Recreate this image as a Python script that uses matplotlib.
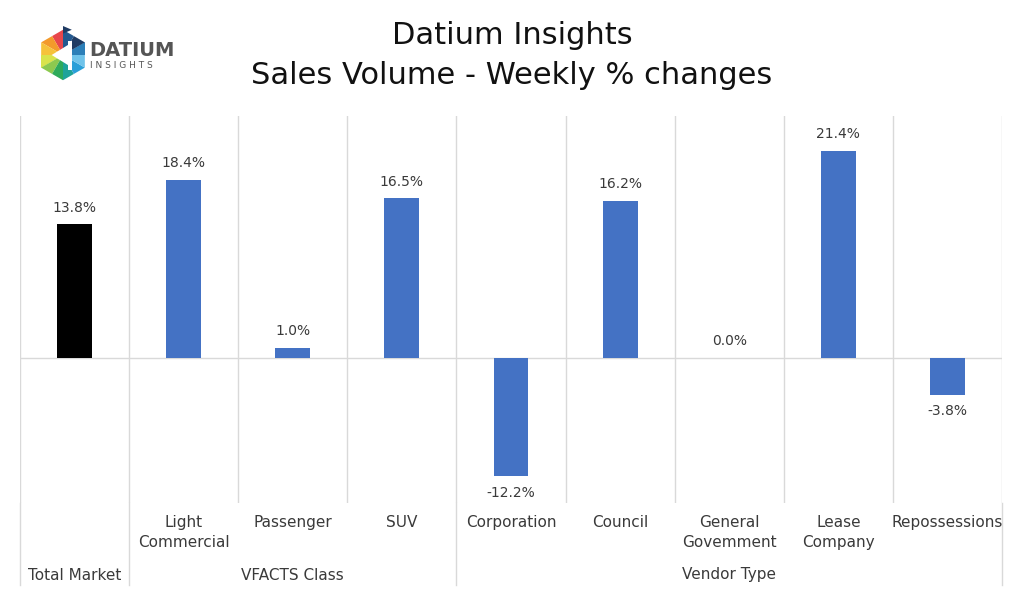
import matplotlib
matplotlib.use("Agg")
import matplotlib.pyplot as plt
from matplotlib.patches import Polygon
import numpy as np

# datos del grafico
categorias = ["", "Light\nCommercial", "Passenger", "SUV", "Corporation", "Council",
              "General\nGovemment", "Lease\nCompany", "Repossessions"]
valores = [13.8, 18.4, 1.0, 16.5, -12.2, 16.2, 0.0, 21.4, -3.8]
colores = ["#000000"] + ["#4472C4"] * 8
grupos = ["Total Market", "VFACTS Class", "Vendor Type"]
limites_grupos = [0, 1, 4, 9]

plt.rcParams['font.family'] = ['DejaVu Sans']
gris = "#d9d9d9"
texto = "#3a3a3a"

fig = plt.figure(figsize=(10.24, 5.94), dpi=100)
W, H = 1024, 594
ax = fig.add_axes([20 / W, 1 - 503 / H, 982 / W, 387 / H])

x = np.arange(len(valores)) + 0.5
barras = ax.bar(x, valores, width=0.32, color=colores, zorder=3)
ax.set_xlim(0, len(valores))
ax.set_ylim(-15, 25)

# lineas verticales y linea de cero
for i in range(len(valores) + 1):
    ax.axvline(i, color=gris, lw=1, zorder=1)
ax.axhline(0, color=gris, lw=1, zorder=2)

# prolongar las lineas de los grupos por debajo del eje
y_abajo = -(585 - 503) / 387
for b in limites_grupos:
    ax.plot([b, b], [0, y_abajo], transform=ax.get_xaxis_transform(),
            color=gris, lw=1, clip_on=False)

# etiquetas de datos
for xi, v in zip(x, valores):
    if v >= 0:
        ax.annotate(f"{v:.1f}%", (xi, v), xytext=(0, 7), textcoords="offset points",
                    ha="center", va="bottom", fontsize=10, color=texto)
    else:
        ax.annotate(f"{v:.1f}%", (xi, v), xytext=(0, -7), textcoords="offset points",
                    ha="center", va="top", fontsize=10, color=texto)

ax.set_xticks([])
ax.set_yticks([])
for s in ax.spines.values():
    s.set_visible(False)

# etiquetas del eje x (dos niveles)
trans = ax.get_xaxis_transform()
for xi, c in zip(x, categorias):
    if c:
        ax.text(xi, -(515 - 503) / 387, c, transform=trans, ha="center", va="top",
                fontsize=11, color=texto, linespacing=1.4)
y_grupo = -(575 - 503) / 387
for g, a, b in zip(grupos, limites_grupos[:-1], limites_grupos[1:]):
    ax.text((a + b) / 2, y_grupo, g, transform=trans, ha="center", va="center",
            fontsize=11, color=texto)

# titulo
fig.text(0.5, 1 - 36 / H, "Datium Insights", ha="center", va="center",
         fontsize=22, color="#111111")
fig.text(0.5, 1 - 75 / H, "Sales Volume - Weekly % changes", ha="center", va="center",
         fontsize=22, color="#111111")

# logo
lax = fig.add_axes([34 / W, 1 - 84 / H, 58 / W, 58 / H])
lax.set_xlim(-1.15, 1.15)
lax.set_ylim(-1.15, 1.15)
lax.set_aspect("equal")
lax.axis("off")
ang = np.deg2rad(90 + 60 * np.arange(6))
pts = np.c_[np.cos(ang), np.sin(ang)]
col_sec = [["#E8464B", "#F39A2B"], ["#F6C23A", "#D9E34B"], ["#8CC94F", "#2EAA5A"],
           ["#1FA39A", "#2A9FD8"], ["#6FC3EA", "#2C7FB8"], ["#1F3B63", "#24598F"]]
for k in range(6):
    p1, p2 = pts[k], pts[(k + 1) % 6]
    m = (p1 + p2) / 2
    lax.add_patch(Polygon([[0, 0], p1, m], closed=True, color=col_sec[k][0], lw=0))
    lax.add_patch(Polygon([[0, 0], m, p2], closed=True, color=col_sec[k][1], lw=0))
lax.add_patch(Polygon([[-0.45, 0.0], [0.2, 0.4], [0.2, -0.4]], closed=True, color="white", lw=0))
lax.add_patch(Polygon([[0.2, 0.55], [0.2, -0.6], [0.35, -0.6], [0.35, 0.55]], closed=True, color="white", lw=0))
lax.add_patch(Polygon([[0.0, 1.15], [0.0, 0.85], [0.35, 1.0]], closed=True, color="#1F3B63", lw=0))

fig.text(89 / W, 1 - 50 / H, "DATIUM", ha="left", va="center", fontsize=14,
         fontweight="bold", color="#555555")
fig.text(90 / W, 1 - 65 / H, "I N S I G H T S", ha="left", va="center", fontsize=6.5,
         color="#555555")

fig.savefig("out.png", dpi=100, facecolor="white")
